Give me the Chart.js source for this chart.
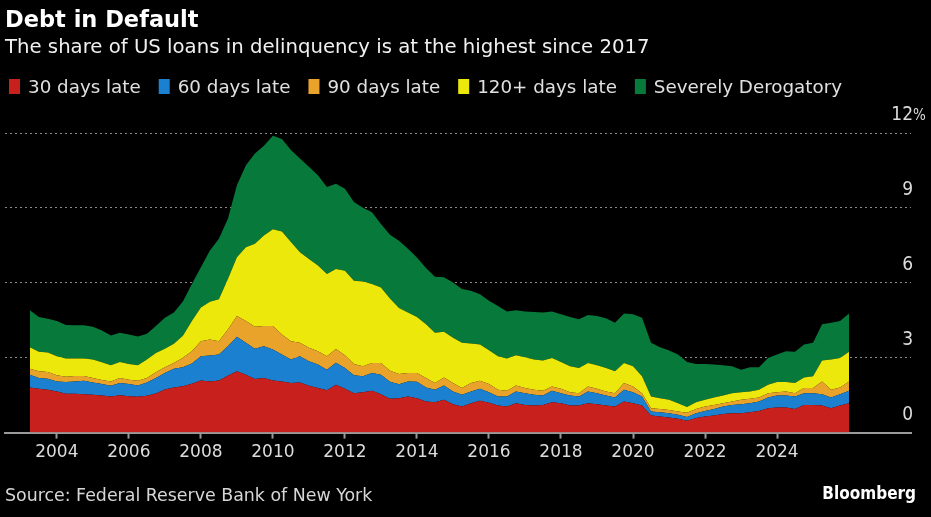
<!DOCTYPE html>
<html>
<head>
<meta charset="utf-8">
<script src="https://cdn.jsdelivr.net/npm/chart.js@4.4.1/dist/chart.umd.min.js"></script>
<style>
  html, body { margin: 0; padding: 0; background: #000; }
  #chart { display: block; }
</style>
</head>
<body>
<canvas id="chart" width="931" height="517"></canvas>
<script>
// Percent of balance by delinquency status, quarterly 2003 Q1 - 2025 Q4
const FIRST_YEAR = 2003;
const QUARTERS = [];
for (let y = FIRST_YEAR; y <= 2025; y++) {
    for (let q = 1; q <= 4; q++) QUARTERS.push(y + ' Q' + q);
}

const SERIES_LABELS = ['30 days late', '60 days late', '90 days late', '120+ days late', 'Severely Derogatory'];

const THIRTY_DAYS = [
    1.81, 1.76, 1.72, 1.65, 1.56, 1.56, 1.54, 1.52, 1.49, 1.45,
    1.50, 1.46, 1.44, 1.48, 1.57, 1.73, 1.81, 1.86, 1.96, 2.09,
    2.05, 2.09, 2.28, 2.46, 2.32, 2.15, 2.19, 2.09, 2.05, 1.99,
    2.01, 1.88, 1.79, 1.70, 1.92, 1.76, 1.58, 1.62, 1.68, 1.54,
    1.36, 1.38, 1.45, 1.38, 1.25, 1.22, 1.32, 1.14, 1.05, 1.18,
    1.28, 1.20, 1.09, 1.05, 1.18, 1.11, 1.09, 1.11, 1.22, 1.18,
    1.09, 1.09, 1.18, 1.14, 1.09, 1.05, 1.25, 1.18, 1.09, 0.68,
    0.64, 0.60, 0.55, 0.47, 0.58, 0.64, 0.68, 0.74, 0.78, 0.78,
    0.82, 0.87, 0.98, 1.01, 1.01, 0.95, 1.11, 1.11, 1.09, 0.98,
    1.09, 1.18
];
const SIXTY_DAYS = [
    0.51, 0.43, 0.44, 0.40, 0.47, 0.49, 0.54, 0.49, 0.46, 0.43,
    0.49, 0.49, 0.45, 0.53, 0.62, 0.66, 0.75, 0.76, 0.81, 0.97,
    1.04, 1.04, 1.18, 1.38, 1.28, 1.21, 1.27, 1.24, 1.08, 0.94,
    1.05, 0.98, 0.94, 0.82, 0.88, 0.83, 0.72, 0.64, 0.71, 0.78,
    0.68, 0.56, 0.60, 0.66, 0.56, 0.50, 0.57, 0.51, 0.47, 0.47,
    0.48, 0.42, 0.36, 0.40, 0.47, 0.47, 0.43, 0.38, 0.46, 0.40,
    0.40, 0.36, 0.47, 0.44, 0.40, 0.36, 0.47, 0.44, 0.36, 0.17,
    0.18, 0.18, 0.16, 0.15, 0.20, 0.23, 0.27, 0.31, 0.33, 0.36,
    0.36, 0.38, 0.43, 0.48, 0.48, 0.50, 0.47, 0.47, 0.45, 0.43,
    0.45, 0.50
];
const NINETY_DAYS = [
    0.24, 0.27, 0.27, 0.25, 0.21, 0.22, 0.19, 0.18, 0.16, 0.17,
    0.20, 0.17, 0.19, 0.18, 0.23, 0.23, 0.23, 0.38, 0.49, 0.60,
    0.64, 0.53, 0.67, 0.83, 0.87, 0.88, 0.81, 0.94, 0.80, 0.73,
    0.54, 0.54, 0.53, 0.54, 0.55, 0.51, 0.45, 0.40, 0.40, 0.47,
    0.44, 0.41, 0.34, 0.35, 0.38, 0.27, 0.32, 0.34, 0.27, 0.34,
    0.32, 0.33, 0.27, 0.23, 0.24, 0.21, 0.20, 0.19, 0.17, 0.18,
    0.13, 0.13, 0.20, 0.18, 0.16, 0.17, 0.27, 0.23, 0.13, 0.13,
    0.13, 0.13, 0.14, 0.18, 0.17, 0.18, 0.16, 0.13, 0.14, 0.18,
    0.18, 0.16, 0.17, 0.13, 0.16, 0.13, 0.21, 0.21, 0.51, 0.31,
    0.27, 0.37
];
const ONE_TWENTY_DAYS = [
    0.86, 0.78, 0.78, 0.76, 0.73, 0.70, 0.70, 0.74, 0.71, 0.65,
    0.64, 0.63, 0.62, 0.74, 0.77, 0.74, 0.77, 0.88, 1.21, 1.35,
    1.51, 1.68, 2.02, 2.35, 2.95, 3.32, 3.62, 3.87, 4.12, 3.97,
    3.62, 3.55, 3.43, 3.29, 3.20, 3.38, 3.33, 3.39, 3.16, 3.02,
    2.89, 2.64, 2.42, 2.24, 2.15, 2.01, 1.83, 1.81, 1.81, 1.58,
    1.45, 1.35, 1.34, 1.29, 1.21, 1.23, 1.21, 1.21, 1.14, 1.07,
    1.04, 1.01, 0.94, 0.94, 0.94, 0.88, 0.80, 0.81, 0.68, 0.47,
    0.43, 0.41, 0.33, 0.23, 0.27, 0.27, 0.30, 0.31, 0.33, 0.30,
    0.29, 0.31, 0.34, 0.41, 0.38, 0.41, 0.42, 0.47, 0.84, 1.21,
    1.18, 1.19
];
const SEVERELY_DEROGATORY = [
    1.48, 1.39, 1.35, 1.41, 1.34, 1.33, 1.33, 1.31, 1.27, 1.19,
    1.17, 1.18, 1.15, 1.03, 1.08, 1.24, 1.25, 1.37, 1.48, 1.61,
    2.05, 2.42, 2.42, 2.89, 3.29, 3.62, 3.60, 3.75, 3.71, 3.69,
    3.76, 3.70, 3.62, 3.49, 3.42, 3.29, 3.16, 2.96, 2.88, 2.55,
    2.55, 2.69, 2.55, 2.38, 2.25, 2.24, 2.18, 2.21, 2.15, 2.11,
    2.01, 1.98, 2.01, 1.88, 1.80, 1.83, 1.90, 1.92, 1.86, 1.91,
    1.97, 1.95, 1.92, 1.97, 1.99, 1.94, 1.98, 2.08, 2.34, 2.15,
    2.04, 1.97, 1.95, 1.80, 1.53, 1.43, 1.32, 1.21, 1.08, 0.90,
    0.97, 0.90, 1.07, 1.10, 1.23, 1.25, 1.32, 1.34, 1.45, 1.47,
    1.48, 1.53
];

const YEAR_TICKS = [2004, 2006, 2008, 2010, 2012, 2014, 2016, 2018, 2020, 2022, 2024];
const PCT_TICKS = [0, 3, 6, 9, 12];

const COLORS = ['#c8201c', '#1b80cf', '#e9a32b', '#ede80c', '#07793b'];
const FONT = "'DejaVu Sans', sans-serif";
const FONT_NARROW = "'DejaVu Sans Condensed', 'DejaVu Sans', sans-serif";

// quarter label -> decimal year at quarter end
const quarterToX = (q) => {
    const [y, n] = q.split(' Q');
    return Number(y) + Number(n) / 4;
};

const SERIES_VALUES = [THIRTY_DAYS, SIXTY_DAYS, NINETY_DAYS, ONE_TWENTY_DAYS, SEVERELY_DEROGATORY];

Chart.defaults.font.family = FONT;
Chart.defaults.color = '#dcdcdc';

// Title, legend, right-hand percent labels and footer
const chromePlugin = {
    id: 'chrome',
    afterDraw(chart) {
        const ctx = chart.ctx;
        ctx.save();
        ctx.textBaseline = 'alphabetic';
        ctx.textAlign = 'left';

        ctx.fillStyle = '#ffffff';
        ctx.font = `bold 22.5px ${FONT}`;
        ctx.fillText('Debt in Default', 5, 27);

        ctx.fillStyle = '#f0f0f0';
        ctx.font = `19.7px ${FONT}`;
        ctx.fillText('The share of US loans in delinquency is at the highest since 2017', 5, 53);

        // legend
        ctx.font = `18.3px ${FONT}`;
        let x = 9;
        chart.data.datasets.forEach(ds => {
            ctx.fillStyle = ds.backgroundColor;
            ctx.fillRect(x, 79, 11, 15);
            ctx.fillStyle = '#e0e0e0';
            ctx.fillText(ds.label, x + 19, 93);
            x += 19 + ctx.measureText(ds.label).width + 18;
        });

        // percent labels sit above their gridlines
        const yScale = chart.scales.y;
        ctx.fillStyle = '#dcdcdc';
        yScale.ticks.forEach(t => {
            const py = yScale.getPixelForValue(t.value) - 13;
            ctx.font = `19px ${FONT_NARROW}`;
            ctx.textAlign = 'right';
            ctx.fillText(String(t.value), 913, py);
            if (t.value === PCT_TICKS[PCT_TICKS.length - 1]) {
                ctx.font = `15px ${FONT_NARROW}`;
                ctx.textAlign = 'left';
                ctx.fillText('%', 913, py);
            }
        });

        ctx.textAlign = 'left';
        ctx.fillStyle = '#d6d6d6';
        ctx.font = `17.4px ${FONT}`;
        ctx.fillText('Source: Federal Reserve Bank of New York', 5, 501);

        ctx.textAlign = 'right';
        ctx.fillStyle = '#ffffff';
        ctx.font = `bold 17px ${FONT_NARROW}`;
        ctx.fillText('Bloomberg', 916, 499);
        ctx.restore();
    }
};

const ctx = document.getElementById('chart').getContext('2d');
new Chart(ctx, {
    type: 'line',
    data: {
        datasets: SERIES_LABELS.map((label, i) => ({
            label: label,
            data: SERIES_VALUES[i].map((v, j) => ({ x: quarterToX(QUARTERS[j]), y: v })),
            backgroundColor: COLORS[i],
            borderColor: COLORS[i],
            borderWidth: 0,
            pointRadius: 0,
            tension: 0,
            fill: i === 0 ? 'origin' : '-1',
        }))
    },
    options: {
        responsive: false,
        animation: false,
        devicePixelRatio: 1,
        layout: { padding: { top: 133, left: 5, right: 20, bottom: 50 } },
        plugins: {
            legend: { display: false },
            tooltip: { enabled: false },
        },
        scales: {
            x: {
                type: 'linear',
                min: 2002.56,
                max: 2027.72,
                afterBuildTicks: (scale) => { scale.ticks = YEAR_TICKS.map(v => ({ value: v })); },
                ticks: {
                    callback: (v) => String(v),
                    font: { size: 17 },
                    color: '#dcdcdc',
                    padding: 4,
                    maxRotation: 0,
                    autoSkip: false,
                },
                grid: { drawOnChartArea: false, drawTicks: true, tickLength: 6, tickColor: '#9a9a9a', tickWidth: 2 },
                border: { display: true, color: '#9a9a9a', width: 2 },
            },
            y: {
                stacked: true,
                position: 'right',
                min: 0,
                max: 12,
                afterBuildTicks: (scale) => { scale.ticks = PCT_TICKS.map(v => ({ value: v })); },
                ticks: { display: false },
                grid: { color: '#8a8a8a', lineWidth: 1, drawTicks: false },
                border: { display: false, dash: [2, 3] },
            }
        }
    },
    plugins: [chromePlugin]
});
</script>
</body>
</html>
